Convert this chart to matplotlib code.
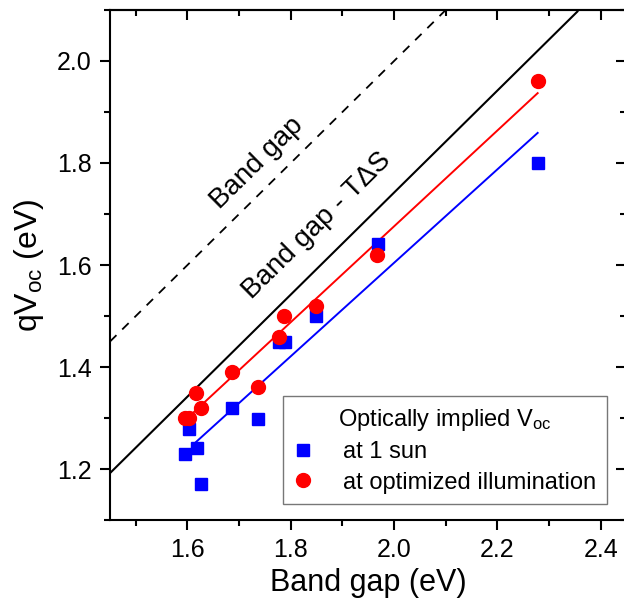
import numpy as np
import matplotlib
matplotlib.use("Agg")
from matplotlib import pyplot as plt
from matplotlib.ticker import MultipleLocator, FormatStrFormatter

plt.rcParams['font.family'] = ['Liberation Sans', 'DejaVu Sans']
plt.rcParams['mathtext.default'] = 'regular'

# data
gap_sun = [1.596, 1.602, 1.618, 1.627, 1.687, 1.737, 1.778, 1.788, 1.848, 1.968, 2.278]
voc_sun = [1.229, 1.278, 1.241, 1.170, 1.320, 1.298, 1.450, 1.450, 1.500, 1.641, 1.800]
gap_opt = [1.596, 1.602, 1.617, 1.627, 1.687, 1.736, 1.778, 1.786, 1.848, 1.966, 2.278]
voc_opt = [1.300, 1.300, 1.349, 1.320, 1.390, 1.361, 1.459, 1.500, 1.520, 1.620, 1.961]

# fit lines (end points)
fit_sun_x = [1.61, 2.278]
fit_sun_y = [1.247, 1.859]
fit_opt_x = [1.60, 2.278]
fit_opt_y = [1.300, 1.937]

# limit lines
bg_x = [1.45, 2.10]
bg_y = [1.45, 2.10]
bgts_x = [1.45, 2.355]
bgts_y = [1.192, 2.097]

fig = plt.figure(figsize=(6.24, 6.09), dpi=100)
ax = fig.add_axes([0.1763, 0.1461, 0.8277, 0.8375])

ax.plot(bg_x, bg_y, color='black', lw=1.3, ls=(0, (5, 4.5)))
ax.plot(bgts_x, bgts_y, color='black', lw=1.5)
ax.plot(fit_opt_x, fit_opt_y, color='red', lw=1.4)
ax.plot(fit_sun_x, fit_sun_y, color='blue', lw=1.4)
ax.plot(gap_sun, voc_sun, 's', color='blue', ms=9, mec='blue', label='at 1 sun')
ax.plot(gap_opt, voc_opt, 'o', color='red', ms=10, mec='red', label='at optimized illumination')

ax.text(1.735, 1.80, 'Band gap', rotation=44.6, rotation_mode='anchor',
        ha='center', va='center', fontsize=20)
ax.text(1.85, 1.678, 'Band gap - T\u0394S', rotation=44.6, rotation_mode='anchor',
        ha='center', va='center', fontsize=20)

ax.set_xlim(1.45, 2.45)
ax.set_ylim(1.1, 2.1)
ax.xaxis.set_major_locator(MultipleLocator(0.2))
ax.xaxis.set_minor_locator(MultipleLocator(0.1))
ax.yaxis.set_major_locator(MultipleLocator(0.2))
ax.yaxis.set_minor_locator(MultipleLocator(0.1))
ax.xaxis.set_major_formatter(FormatStrFormatter('%.1f'))
ax.yaxis.set_major_formatter(FormatStrFormatter('%.1f'))

ax.tick_params(which='both', direction='out', width=1.5, labelsize=18, pad=6)
ax.tick_params(which='major', length=7)
ax.tick_params(which='minor', length=4)
for s in ax.spines.values():
    s.set_linewidth(1.5)

# mirrored ticks on top/right pointing inwards
top = ax.secondary_xaxis('top')
top.xaxis.set_major_locator(MultipleLocator(0.2))
top.xaxis.set_minor_locator(MultipleLocator(0.1))
top.tick_params(which='both', direction='in', width=1.5, labeltop=False)
top.tick_params(which='major', length=7)
top.tick_params(which='minor', length=4)
top.spines['top'].set_linewidth(1.5)
right = ax.secondary_yaxis('right')
right.yaxis.set_major_locator(MultipleLocator(0.2))
right.yaxis.set_minor_locator(MultipleLocator(0.1))
right.tick_params(which='both', direction='in', width=1.5, labelright=False)
right.tick_params(which='major', length=7)
right.tick_params(which='minor', length=4)
right.spines['right'].set_linewidth(1.5)

ax.set_xlabel('Band gap (eV)', fontsize=22, labelpad=4)
ax.set_ylabel('qV$_{oc}$ (eV)', fontsize=23, labelpad=8)

leg = ax.legend(title='Optically implied V$_{oc}$', loc='lower right',
                bbox_to_anchor=(0.962, 0.031), borderaxespad=0, fontsize=17,
                title_fontsize=17, fancybox=False, edgecolor='#555555',
                handletextpad=1.3, handlelength=0.8, labelspacing=0.35,
                borderpad=0.45)
leg.get_frame().set_linewidth(1.0)

fig.savefig('out.png', dpi=100)
